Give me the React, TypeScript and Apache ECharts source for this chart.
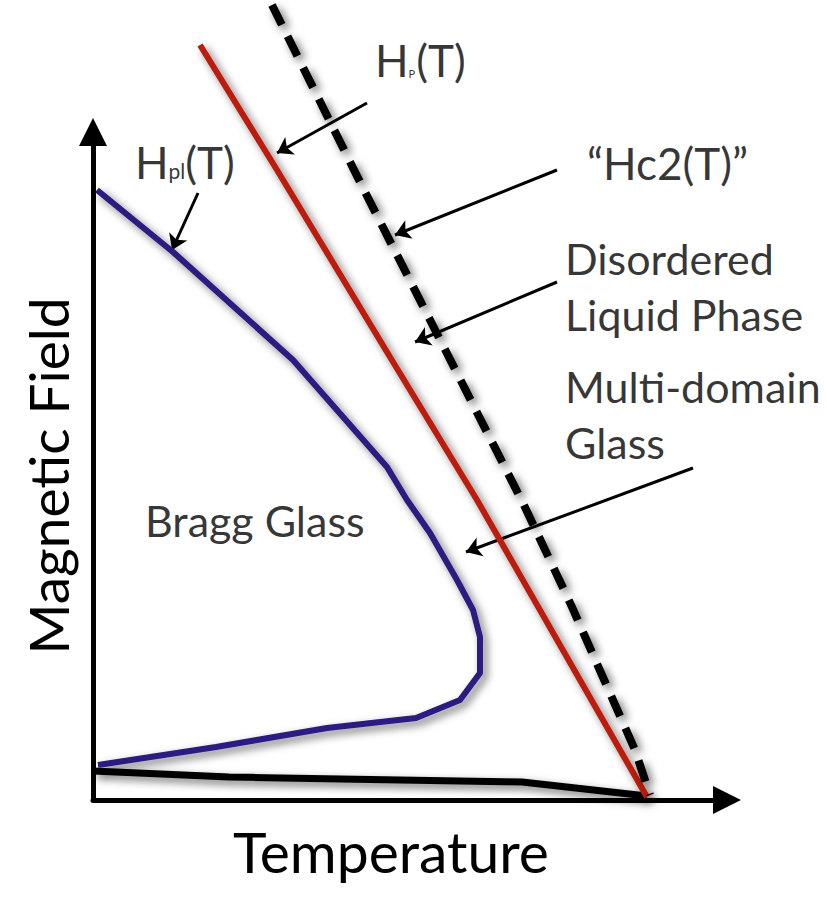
import React, { useEffect, useRef } from "react";
import * as echarts from "echarts";

// Schematic units (arbitrary): x = temperature, y = magnetic field, origin at the axes corner.
const xMax = 634;
const yMax = 668;

// "Hc2(T)" dashed line
const hc2Curve = [
  [179, 795],
  [270, 612],
  [430, 297],
  [479, 193],
  [542, 50],
  [557, 5],
];

// Hp(T) red line
const hpCurve = [
  [107, 755],
  [184, 630],
  [297, 443],
  [384, 300],
  [487, 120],
  [554, 3],
];

// Hpl(T) blue curve (Bragg glass boundary)
const hplCurve = [
  [4, 610],
  [80, 548],
  [200, 440],
  [294, 333],
  [314, 300],
  [337, 267],
  [364, 220],
  [380, 190],
  [387, 163],
  [387, 127],
  [367, 100],
  [323, 82],
  [234, 72],
  [123, 53],
  [5, 35],
];

// lower black boundary
const lowerCurve = [
  [0, 29],
  [136, 23],
  [429, 18],
  [554, 4],
];

// annotation arrows: [tail, head]
const arrowSegments = [
  [[105, 607], [79, 550]],
  [[274, 697], [184, 647]],
  [[464, 630], [302, 565]],
  [[464, 518], [322, 458]],
  [[600, 332], [373, 248]],
];

// annotation labels: left-middle anchor and text
const labelAnchors = [
  [42, 638],
  [282, 740],
  [494, 637],
  [472, 514],
  [472, 386],
  [52, 280],
];
const labelTexts = [
  "{h|H}{s|pl}{h|(T)}",
  "{h|H}{p|P}{h|(T)}",
  "{h|\u201CHc2(T)\u201D}",
  "{b|Disordered}\n{b|Liquid Phase}",
  "{b|Multi-domain}\n{b|Glass}",
  "{g|Bragg Glass}",
];

const xTitle = "Temperature";
const yTitle = "Magnetic Field";

const FONT = "Lato";
const shadow = {
  shadowColor: "rgba(0,0,0,0.55)",
  shadowBlur: 8,
  shadowOffsetX: 4,
  shadowOffsetY: 4,
};

export default function App() {
  const ref = useRef<HTMLDivElement>(null);
  useEffect(() => {
    if (!ref.current) return;
    const chart = echarts.init(ref.current, undefined, { renderer: "svg" });
    const axisCommon = {
      type: "value" as const,
      min: 0,
      axisTick: { show: false },
      axisLabel: { show: false },
      splitLine: { show: false },
      axisLine: {
        show: true,
        lineStyle: { color: "#000", width: 5 },
        symbol: ["none", "triangle"],
        symbolSize: [28, 28],
      },
    };
    chart.setOption({
      animation: false,
      backgroundColor: "#fff",
      grid: { left: 93, right: 100, top: 132, bottom: 98 },
      xAxis: {
        ...axisCommon,
        max: xMax,
        name: xTitle,
        nameLocation: "middle",
        nameGap: 22,
        nameTextStyle: {
          fontFamily: FONT,
          fontSize: 57,
          color: "#000",
          padding: [0, 38, 0, 0],
        },
      },
      yAxis: {
        ...axisCommon,
        max: yMax,
        name: yTitle,
        nameLocation: "middle",
        nameRotate: 90,
        nameGap: 18,
        nameTextStyle: {
          fontFamily: FONT,
          fontSize: 55,
          color: "#000",
          padding: [0, 20, 0, 0],
        },
      },
      series: [
        {
          type: "line",
          data: lowerCurve,
          clip: false,
          showSymbol: false,
          symbol: "none",
          silent: true,
          lineStyle: { color: "#000", width: 7, ...shadow },
        },
        {
          type: "line",
          data: hplCurve,
          clip: false,
          showSymbol: false,
          symbol: "none",
          silent: true,
          lineStyle: { color: "#2c1a80", width: 6, ...shadow },
        },
        {
          type: "line",
          data: hpCurve,
          clip: false,
          showSymbol: false,
          symbol: "none",
          silent: true,
          lineStyle: { color: "#bb1d0b", width: 6, ...shadow },
        },
        {
          type: "line",
          data: hc2Curve,
          clip: false,
          showSymbol: false,
          symbol: "none",
          silent: true,
          lineStyle: { color: "#000", width: 8, type: [22, 13], ...shadow },
        },
        {
          type: "lines",
          coordinateSystem: "cartesian2d",
          clip: false,
          silent: true,
          symbol: ["none", "arrow"],
          symbolSize: 15,
          lineStyle: { color: "#000", width: 3, opacity: 1, curveness: 0 },
          data: arrowSegments.map((c) => ({ coords: c })),
        },
        {
          type: "scatter",
          clip: false,
          silent: true,
          symbolSize: 0,
          data: labelAnchors,
          label: {
            show: true,
            position: "right",
            distance: 0,
            color: "#000",
            formatter: (p: any) => labelTexts[p.dataIndex],
            rich: {
              h: { fontFamily: FONT, fontSize: 44, color: "#000", lineHeight: 52 },
              s: {
                fontFamily: FONT,
                fontSize: 21,
                color: "#000",
                verticalAlign: "bottom",
                padding: [0, 0, 7, 0],
              },
              p: {
                fontFamily: FONT,
                fontSize: 11,
                color: "#000",
                verticalAlign: "bottom",
                padding: [0, 1, 7, 0],
              },
              b: { fontFamily: FONT, fontSize: 43, color: "#000", lineHeight: 56 },
              g: { fontFamily: FONT, fontSize: 43, color: "#000", lineHeight: 50 },
            },
          },
        },
      ],
    });
    return () => chart.dispose();
  }, []);
  return (
    <div
      ref={ref}
      style={{ position: "fixed", left: 0, top: 0, width: 827, height: 898, background: "#fff" }}
    />
  );
}
